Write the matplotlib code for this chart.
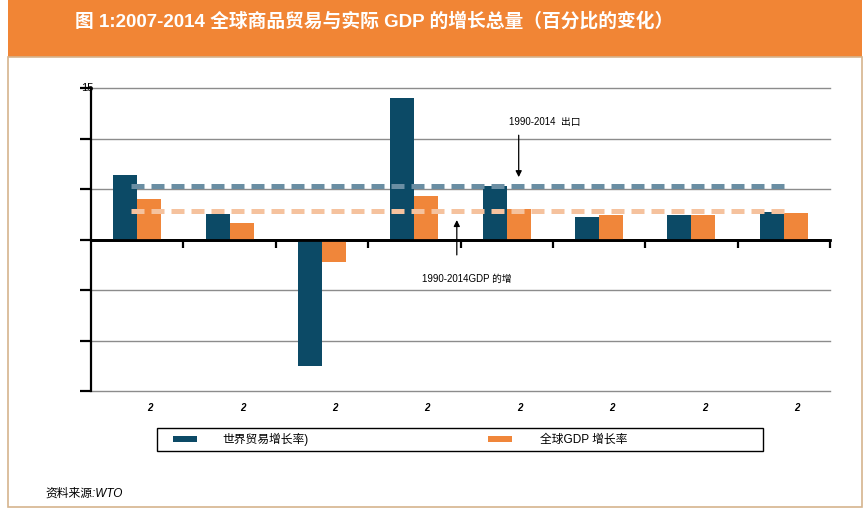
import matplotlib
matplotlib.use("Agg")
import matplotlib.pyplot as plt
from matplotlib.patches import Rectangle

plt.rcParams['font.family'] = ['Liberation Sans', 'Noto Sans CJK SC', 'DejaVu Sans']

years = ['2007', '2008', '2009', '2010', '2011', '2012', '2013', '2014']
trade = [6.4, 2.5, -12.5, 14.0, 5.3, 2.2, 2.4, 2.7]
gdp = [4.0, 1.6, -2.2, 4.3, 3.0, 2.4, 2.4, 2.6]
trade_avg = 5.25   # 1990-2014 出口 平均
gdp_avg = 2.8      # 1990-2014 GDP 平均
labels = ['世界贸易增长率)', '全球GDP 增长率']

dark = '#0c4a66'
orange = '#f0863a'
W, H = 868, 514

fig = plt.figure(figsize=(8.68, 5.14), dpi=100)
fig.patch.set_facecolor('white')

def fx(px):
    return px / W

def fy(py):
    return 1 - py / H

def box(x0, y0, x1, y1, **kw):
    # rectangle given in pixel corners (top-left origin)
    fig.patches.append(Rectangle((fx(x0), fy(y1)), fx(x1 - x0), (y1 - y0) / H,
                                 transform=fig.transFigure, **kw))

# orange title band and thin frame
box(8, 0, 862, 57, facecolor='#f18535', edgecolor='none', zorder=0)
box(8, 57, 862, 507, facecolor='none', edgecolor='#d6b48e', lw=1.2, zorder=0)
fig.text(fx(75), fy(21), '图 1:2007-2014 全球商品贸易与实际 GDP 的增长总量（百分比的变化）',
         color='white', fontsize=13.5, fontweight='bold', va='center', ha='left')

ax = fig.add_axes([fx(91), fy(391), fx(830 - 91), (391 - 88) / H])
x = list(range(len(years)))
bw = 0.26
ax.bar([i - bw / 2 for i in x], trade, width=bw, color=dark, zorder=3)
ax.bar([i + bw / 2 for i in x], gdp, width=bw, color=orange, zorder=3)

ax.hlines(trade_avg, -0.07, 7.0, colors='#6a8ea3', lw=3.6, linestyles=(0, (2.6, 1.4)), zorder=4)
ax.hlines(gdp_avg, -0.07, 7.0, colors='#f5c29e', lw=3.6, linestyles=(0, (2.6, 1.4)), zorder=4)

ax.set_xlim(-0.5, 7.5)
ax.set_ylim(-15, 15)
for v in [-15, -10, -5, 5, 10, 15]:
    ax.axhline(v, color='#8c8c8c', lw=1.0, zorder=1, clip_on=False)
ax.axhline(0, color='black', lw=2.0, zorder=5)

for s in ['top', 'right']:
    ax.spines[s].set_visible(False)
ax.spines['bottom'].set_position(('data', 0))
ax.spines['bottom'].set_linewidth(2.0)
ax.spines['left'].set_linewidth(1.6)
ax.set_xticks([i + 0.5 for i in range(7)] + [7.5])
ax.set_xticklabels([])
ax.tick_params(axis='x', direction='out', length=6, width=1.6)
ax.set_yticks([-15, -10, -5, 0, 5, 10, 15])
ax.set_yticklabels([])
ax.tick_params(axis='y', direction='out', length=8, width=1.6)
ax.text(-0.005, 15, '15', transform=ax.get_yaxis_transform(), ha='center', va='center', fontsize=8)

for i in x:
    ax.text(i + 0.14, -0.057, years[i][0], transform=ax.get_xaxis_transform(), ha='center',
            va='center', fontsize=7, style='italic', fontweight='bold')

ax.annotate('', xy=(4.13, 5.9), xytext=(4.13, 10.6),
            arrowprops=dict(arrowstyle='-|>', color='black', lw=0.9, mutation_scale=9))
ax.text(4.41, 11.6, '1990-2014  出口', fontsize=7, ha='center', va='center')
ax.annotate('', xy=(3.46, 2.2), xytext=(3.46, -1.8),
            arrowprops=dict(arrowstyle='-|>', color='black', lw=0.9, mutation_scale=9))
ax.text(3.57, -3.9, '1990-2014GDP 的增', fontsize=7, ha='center', va='center')

# legend box
box(157, 428, 763, 451, facecolor='white', edgecolor='black', lw=1.0, zorder=2)
box(173, 436, 197, 442, facecolor=dark, edgecolor='none', zorder=3)
box(488, 436, 512, 442, facecolor=orange, edgecolor='none', zorder=3)
fig.text(fx(222), fy(439.5), labels[0], fontsize=8.5, va='center', ha='left')
fig.text(fx(540), fy(439.5), labels[1], fontsize=8.5, va='center', ha='left')

fig.text(fx(45), fy(494), '资料来源:WTO', fontsize=8.5, style='italic', va='center', ha='left')

fig.savefig('out.png', dpi=100)
